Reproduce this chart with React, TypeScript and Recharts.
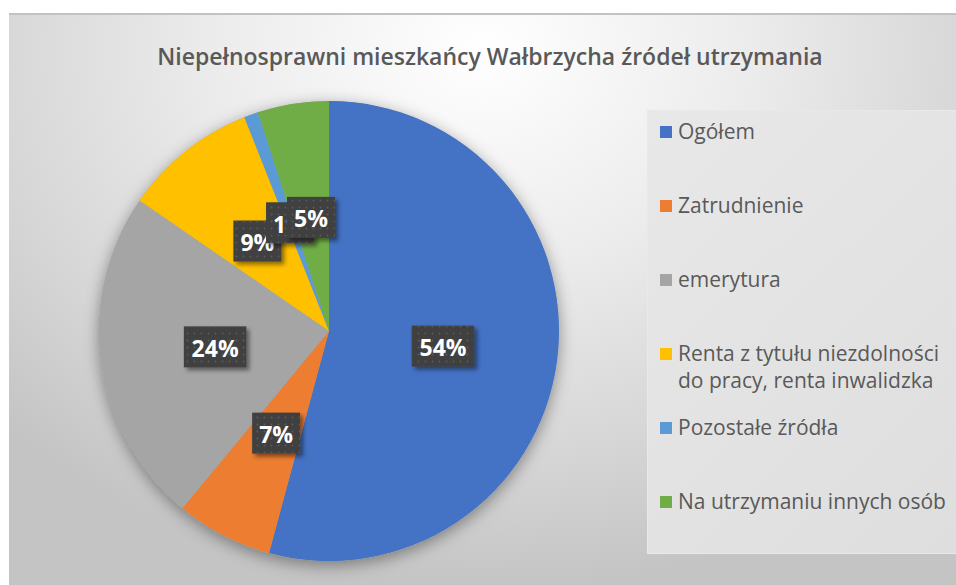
import { PieChart, Pie, Cell, Legend } from "recharts";

const TITLE = "Niepełnosprawni mieszkańcy Wałbrzycha źródeł utrzymania";

const CATEGORIES = [
  "Ogółem",
  "Zatrudnienie",
  "emerytura",
  "Renta z tytułu niezdolności do pracy, renta inwalidzka",
  "Pozostałe źródła",
  "Na utrzymaniu innych osób",
];

// udział w %
const SHARES = [54.2, 6.8, 23.6, 9.4, 1.0, 5.0];

const COLORS = ["#4472C4", "#ED7D31", "#A5A5A5", "#FFC000", "#5B9BD5", "#70AD47"];

const FONT = '"Open Sans", "Noto Sans", sans-serif';
const TEXT = "#595959";

const data = CATEGORIES.map((name, i) => ({ name, value: SHARES[i] }));
const backdrop = [{ name: "tlo", value: 1 }];

const RAD = Math.PI / 180;

function renderLabel(props: any) {
  const { cx, cy, midAngle, outerRadius, percent } = props;
  const r = outerRadius * 0.5;
  const x = cx + r * Math.cos(-midAngle * RAD);
  const y = cy + r * Math.sin(-midAngle * RAD);
  const txt = `${Math.round(percent * 100)}%`;
  const w = txt.length * 14.5 + 19;
  const h = 41;
  return (
    <g>
      <rect
        x={x - w / 2}
        y={y - h / 2}
        width={w}
        height={h}
        fill="#404040"
        filter="url(#labelShadow)"
      />
      <rect x={x - w / 2} y={y - h / 2} width={w} height={h} fill="url(#dots)" />
      <text
        x={x}
        y={y + 1}
        textAnchor="middle"
        dominantBaseline="central"
        fill="#ffffff"
        fontFamily={FONT}
        fontWeight={700}
        fontSize={23}
      >
        {txt}
      </text>
    </g>
  );
}

function renderLegend() {
  return (
    <div
      style={{
        width: 310,
        height: 444,
        boxSizing: "border-box",
        paddingTop: 7,
        background: "linear-gradient(135deg, #e8e8e8 0%, #dedede 100%)",
        border: "1px solid #e9e9e9",
        fontFamily: FONT,
        fontSize: 21,
        color: TEXT,
      }}
    >
      {CATEGORIES.map((name, i) => (
        <div
          key={name}
          style={{ height: 74, display: "flex", alignItems: "flex-start", paddingLeft: 12 }}
        >
          <span
            style={{
              display: "inline-block",
              width: 12,
              height: 12,
              marginTop: 8,
              marginRight: 6,
              background: COLORS[i],
              flex: "none",
            }}
          />
          <span style={{ lineHeight: "27px", width: 280 }}>{name}</span>
        </div>
      ))}
    </div>
  );
}

export default function App() {
  return (
    <div style={{ position: "fixed", left: 0, top: 0, width: 956, height: 585, background: "#fff" }}>
      <svg width={0} height={0} style={{ position: "absolute" }}>
        <defs>
          <pattern id="dots" width={7} height={7} patternUnits="userSpaceOnUse">
            <circle cx={3.5} cy={3.5} r={0.9} fill="#5a5a5a" />
          </pattern>
          <filter id="labelShadow" x="-30%" y="-30%" width="160%" height="160%">
            <feDropShadow dx={3} dy={3} stdDeviation={2} floodColor="#000" floodOpacity={0.45} />
          </filter>
          <filter id="pieShadow" x="-20%" y="-20%" width="140%" height="140%">
            <feDropShadow dx={0} dy={4} stdDeviation={8} floodColor="#000" floodOpacity={0.4} />
          </filter>
        </defs>
      </svg>
      <div
        style={{
          position: "absolute",
          left: 9,
          top: 13,
          width: 947,
          height: 572,
          boxSizing: "border-box",
          borderTop: "2px solid #c2c2c2",
          background:
            "radial-gradient(ellipse 70% 95% at 50% 6%, #ffffff 0%, #ececec 40%, #d6d6d6 75%, #c4c4c4 100%)",
          overflow: "hidden",
        }}
      >
        <div
          style={{
            position: "absolute",
            left: 0,
            width: 962,
            top: 25,
            textAlign: "center",
            fontFamily: FONT,
            fontWeight: 600,
            fontSize: 23,
            color: TEXT,
          }}
        >
          {TITLE}
        </div>
        <PieChart width={947} height={570}>
          <Pie
            data={backdrop}
            dataKey="value"
            cx={315}
            cy={311}
            outerRadius={230}
            stroke="none"
            fill="#a0a0a0"
            legendType="none"
            isAnimationActive={false}
          >
            <Cell fill="#a0a0a0" style={{ filter: "url(#pieShadow)" }} />
          </Pie>
          <Pie
            data={data}
            dataKey="value"
            nameKey="name"
            cx={315}
            cy={311}
            outerRadius={230}
            startAngle={90}
            endAngle={-270}
            stroke="none"
            label={renderLabel}
            labelLine={false}
            isAnimationActive={false}
          >
            {data.map((d, i) => (
              <Cell key={d.name} fill={COLORS[i]} />
            ))}
          </Pie>
          <Legend
            content={renderLegend}
            wrapperStyle={{ position: "absolute", left: 638, top: 95, width: 310 }}
          />
        </PieChart>
      </div>
    </div>
  );
}
